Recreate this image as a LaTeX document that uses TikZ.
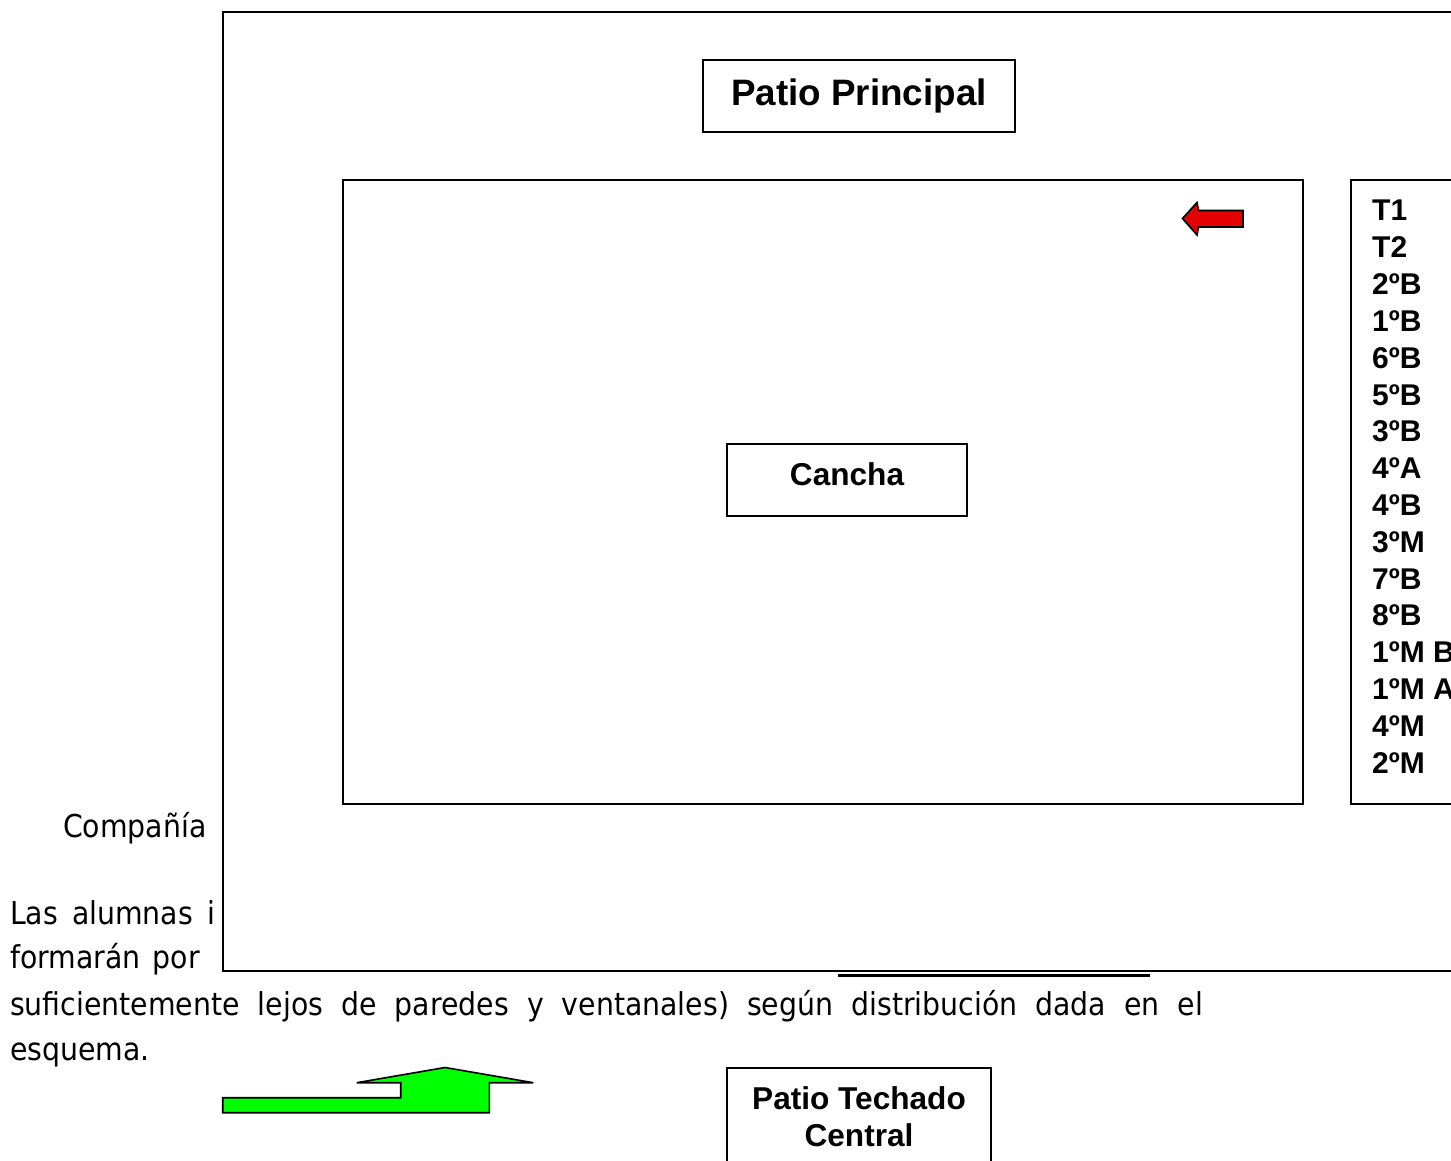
\documentclass[tikz,border=0pt]{standalone}
\usepackage{fontspec}
\setmainfont{Liberation Sans}
\newfontfamily\comic[FakeStretch=0.9]{DejaVu Sans}
\begin{document}
\begin{tikzpicture}[x=1pt,y=-1pt,
  frame/.style={draw=black, line width=1.4pt},
  labelbox/.style={draw=black, line width=1.4pt, fill=white, inner sep=0pt},
  bigtxt/.style={font=\bfseries\fontsize{36.8}{40}\selectfont},
  midtxt/.style={font=\bfseries\fontsize{31.6}{37}\selectfont, align=center},
  listtxt/.style={font=\bfseries\fontsize{30}{36.8}\selectfont, anchor=base west, inner sep=0pt},
  comictxt/.style={font=\comic\fontsize{31.5}{45}\selectfont, anchor=base west, inner sep=0pt}]
\useasboundingbox (0,0) rectangle (1451,1161);
\clip (0,0) rectangle (1451,1161);
\fill[white] (0,0) rectangle (1451,1161);

% text behind the plan
\node[comictxt] (comp) at (63,837) {Compañía};
\node[comictxt] (las) at (10,924) {Las\hspace{14pt}alumnas\hspace{14pt}i};
\node[comictxt] (form) at (10,968) {formarán\hspace{12pt}por};
\node[comictxt] (sufi) at (10,1015) {\makebox[1193pt][s]{suficientemente lejos de paredes y ventanales) según distribución dada en el}};
\node[comictxt] (esq) at (10,1060) {esquema.};

% outer plan
\draw[frame, fill=white] (223,12) rectangle (1470,971);
\draw[line width=3pt] (838,975) -- (1150,975);

% Patio Principal
\node[labelbox, minimum width=312pt, minimum height=72pt, bigtxt] (pp) at (859,96) {Patio Principal};

% field
\draw[frame] (343,180) rectangle (1303,804);
\node[labelbox, minimum width=240pt, minimum height=72pt] (cancha) at (847,480) {};
\node[midtxt, inner sep=0pt, anchor=base] (canchatxt) at (847,485) {Cancha};

% red arrow
\draw[line width=1.6pt, fill=red!90!black, line join=miter]
  (1182.5,218.5) -- (1197,202.5) -- (1198.5,210.5) -- (1243,210.5) -- (1243,227) -- (1198.5,227) -- (1197,235) -- cycle;

% list box
\draw[frame] (1351,180) rectangle (1480,804);
\foreach \t [count=\i from 0] in {T1,T2,2ºB,1ºB,6ºB,5ºB,3ºB,4ºA,4ºB,3ºM,7ºB,8ºB,1ºM B,1ºM A,4ºM,2ºM}{
  \node[listtxt] (l\i) at (1372,221+36.8*\i) {\t};
}

% green arrow
\draw[line width=1.6pt, fill=green, line join=miter]
  (222.7,1112.7) -- (222.7,1097.7) -- (400.7,1097.7) -- (400.7,1082.7) -- (356.7,1082.7)
  -- (445,1067.5) -- (533.3,1082.7) -- (489.3,1082.7) -- (489.3,1112.7) -- cycle;

% Patio Techado Central
\draw[frame, fill=white] (727,1200) -- (727,1068) -- (991,1068) -- (991,1200);
\node[midtxt, inner sep=0pt] (ptc) at (859,1117) {Patio Techado\\Central};
\end{tikzpicture}
\end{document}
